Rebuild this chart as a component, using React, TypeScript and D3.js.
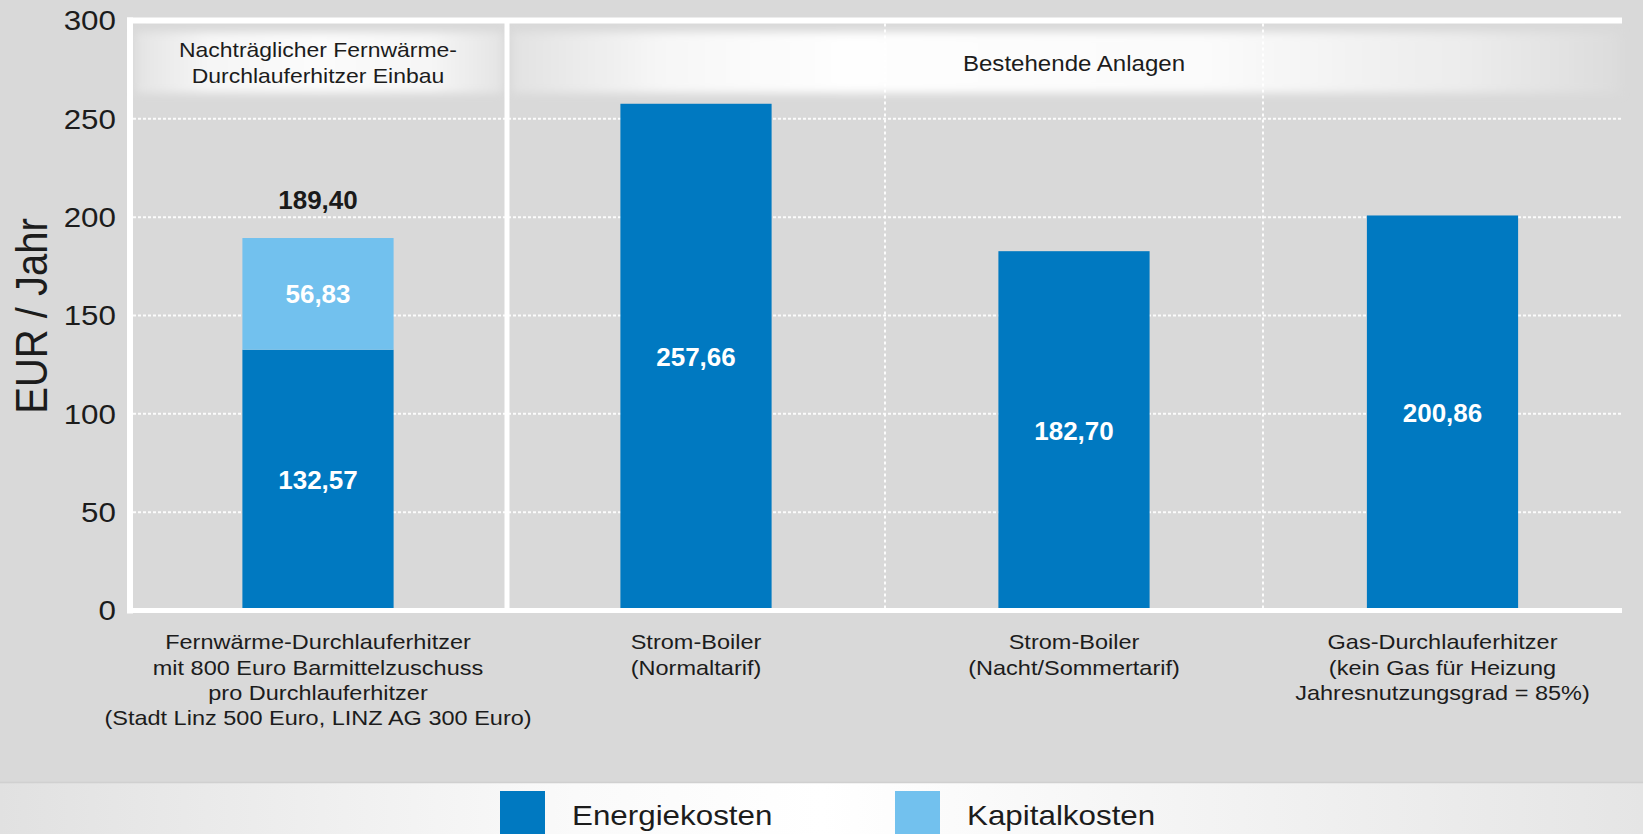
import React, { useEffect, useRef } from 'react';
import * as d3 from 'd3';

// category labels (multi-line)
const categories = [
  ['Fernwärme-Durchlauferhitzer', 'mit 800 Euro Barmittelzuschuss', 'pro Durchlauferhitzer', '(Stadt Linz 500 Euro, LINZ AG 300 Euro)'],
  ['Strom-Boiler', '(Normaltarif)'],
  ['Strom-Boiler', '(Nacht/Sommertarif)'],
  ['Gas-Durchlauferhitzer', '(kein Gas für Heizung', 'Jahresnutzungsgrad = 85%)'],
];
const energiekosten = [132.57, 257.66, 182.7, 200.86];
const kapitalkosten = [56.83, 0, 0, 0];
const seriesNames = ['Energiekosten', 'Kapitalkosten'];
const seriesColors = ['#0079c1', '#72c1ee'];
const groupLabels = [['Nachträglicher Fernwärme-', 'Durchlauferhitzer Einbau'], ['Bestehende Anlagen']];
const groupSpans = [[0, 0], [1, 3]];
const yTicks = [0, 50, 100, 150, 200, 250, 300];

const W = 1643;
const H = 834;
const FONT = '"Liberation Sans", Arial, Helvetica, sans-serif';
const SX = 1.12; // reference text is drawn slightly wide

const fmt = d3
  .formatLocale({ decimal: ',', thousands: '.', grouping: [3], currency: ['', ' €'] })
  .format('.2f');

function App() {
  const svgRef = useRef<SVGSVGElement>(null);

  useEffect(() => {
    document.body.style.margin = '0';
    const svg = d3.select(svgRef.current);
    svg.selectAll('*').remove();

    const plotLeft = 130;
    const plotRight = 1622;

    const keys = categories.map((_, i) => String(i));
    const x = d3.scaleBand().domain(keys).range([129, 1641]).padding(0);
    const y = d3.scaleLinear().domain([0, 300]).range([610.5, 20.5]);
    const bw = x.bandwidth() * 0.4;
    const cx = (i: number) => {
      const x0 = x(String(i)) as number;
      return (x0 + Math.min(x0 + x.bandwidth(), plotRight)) / 2;
    };

    const defs = svg.append('defs');
    const soft = defs.append('filter').attr('id', 'soft').attr('x', '-10%').attr('y', '-30%').attr('width', '120%').attr('height', '160%');
    soft.append('feGaussianBlur').attr('stdDeviation', 4);

    const grad = (id: string, stops: [number, string][]) => {
      const g = defs.append('linearGradient').attr('id', id).attr('x1', 0).attr('x2', 1).attr('y1', 0).attr('y2', 0);
      stops.forEach(([o, c]) => g.append('stop').attr('offset', o).attr('stop-color', c));
    };
    grad('legendBand', [[0, '#e1e1e1'], [0.35, '#fafafa'], [0.5, '#ffffff'], [0.68, '#f6f6f6'], [1, '#e5e5e5']]);
    grad('head0', [[0, '#e4e4e4'], [0.2, '#f6f6f6'], [0.5, '#fbfbfb'], [0.8, '#f6f6f6'], [1, '#e4e4e4']]);
    grad('head1', [[0, '#e2e2e2'], [0.14, '#f7f7f7'], [0.3, '#fefefe'], [0.62, '#fbfbfb'], [0.86, '#ececec'], [1, '#dcdcdc']]);

    // background
    svg.append('rect').attr('width', W).attr('height', H).attr('fill', '#d9d9d9');

    // legend band
    svg.append('rect').attr('x', 0).attr('y', 783).attr('width', W).attr('height', H - 783).attr('fill', 'url(#legendBand)');
    svg.append('line').attr('x1', 0).attr('x2', W).attr('y1', 782.5).attr('y2', 782.5).attr('stroke', '#d0d0d0').attr('stroke-width', 1.5);

    // group header boxes
    groupSpans.forEach(([a, b], gi) => {
      const x0 = (x(String(a)) as number) + (gi === 0 ? 7 : 5);
      const x1 = Math.min((x(String(b)) as number) + x.bandwidth(), plotRight) - (gi === 0 ? 4 : 2);
      svg
        .append('rect')
        .attr('x', x0)
        .attr('y', 32)
        .attr('width', x1 - x0)
        .attr('height', 61)
        .attr('fill', `url(#head${gi})`)
        .attr('filter', 'url(#soft)');
    });

    // horizontal grid
    svg
      .append('g')
      .selectAll('line')
      .data(yTicks.filter((t) => t > 0 && t < 300))
      .join('line')
      .attr('x1', plotLeft + 3)
      .attr('x2', plotRight)
      .attr('y1', (d) => y(d))
      .attr('y2', (d) => y(d))
      .attr('stroke', '#ffffff')
      .attr('stroke-opacity', 0.9)
      .attr('stroke-width', 2)
      .attr('stroke-dasharray', '3 2');

    // vertical dotted separators inside group 2
    svg
      .append('g')
      .selectAll('line')
      .data([2, 3])
      .join('line')
      .attr('x1', (d) => x(String(d)) as number)
      .attr('x2', (d) => x(String(d)) as number)
      .attr('y1', y(300) + 3)
      .attr('y2', y(0))
      .attr('stroke', '#ffffff')
      .attr('stroke-opacity', 0.9)
      .attr('stroke-width', 2)
      .attr('stroke-dasharray', '3 3');

    // bars
    const stack = d3.stack<number>().keys(['0', '1']).value((i, k) => (k === '0' ? energiekosten[i] : kapitalkosten[i]));
    const series = stack(d3.range(categories.length));
    series.forEach((s, si) => {
      svg
        .append('g')
        .selectAll('rect')
        .data(s.map((d, i) => ({ d, i })).filter((e) => e.d[1] > e.d[0]))
        .join('rect')
        .attr('x', (e) => cx(e.i) - bw / 2)
        .attr('width', bw)
        .attr('y', (e) => y(e.d[1]))
        .attr('height', (e) => y(e.d[0]) - y(e.d[1]))
        .attr('fill', seriesColors[si]);
    });

    // white frame
    const frame = svg.append('g').attr('stroke', '#ffffff');
    frame.append('line').attr('x1', plotLeft).attr('x2', plotLeft).attr('y1', y(300) - 3).attr('y2', y(0) + 3).attr('stroke-width', 6);
    frame.append('line').attr('x1', plotLeft - 3).attr('x2', plotRight).attr('y1', y(300)).attr('y2', y(300)).attr('stroke-width', 6);
    frame.append('line').attr('x1', plotLeft - 3).attr('x2', plotRight).attr('y1', y(0)).attr('y2', y(0)).attr('stroke-width', 5);
    frame
      .append('line')
      .attr('x1', x('1') as number)
      .attr('x2', x('1') as number)
      .attr('y1', y(300))
      .attr('y2', y(0))
      .attr('stroke-width', 5);

    const text = (g: any, tx: number, ty: number, s: string, size: number, opts: any = {}) =>
      g
        .append('text')
        .attr('transform', `translate(${tx},${ty}) scale(${opts.sx ?? SX},1)${opts.rot ? ' rotate(-90)' : ''}`)
        .attr('font-family', FONT)
        .attr('font-size', size)
        .attr('font-weight', opts.bold ? 'bold' : 'normal')
        .attr('text-anchor', opts.anchor ?? 'middle')
        .attr('dy', '0.35em')
        .attr('fill', opts.fill ?? '#1c1c1c')
        .text(s);

    // y axis labels
    const axis = svg.append('g');
    yTicks.forEach((t) => text(axis, 116, y(t), String(t), 28, { anchor: 'end' }));
    text(axis, 31, 316, 'EUR / Jahr', 40, { rot: true });

    // group headers
    const heads = svg.append('g');
    groupSpans.forEach(([a, b], gi) => {
      const mid = ((x(String(a)) as number) + (x(String(b)) as number) + x.bandwidth()) / 2;
      const lines = groupLabels[gi];
      const y0 = lines.length > 1 ? 50 : 63;
      lines.forEach((l, li) => text(heads, mid, y0 + li * 26, l, lines.length > 1 ? 20.5 : 21.5));
    });

    // category labels
    const cats = svg.append('g');
    categories.forEach((lines, i) => {
      lines.forEach((l, li) => text(cats, cx(i), 642 + li * 25.3, l, 21));
    });

    // value labels
    const vals = svg.append('g');
    series.forEach((s, si) => {
      s.forEach((d, i) => {
        if (d[1] <= d[0]) return;
        text(vals, cx(i), y((d[0] + d[1]) / 2), fmt(d[1] - d[0]), 26, { bold: true, fill: '#ffffff', sx: 1 });
      });
    });
    categories.forEach((_, i) => {
      if (kapitalkosten[i] > 0) {
        const total = energiekosten[i] + kapitalkosten[i];
        text(vals, cx(i), y(total) - 38, fmt(total), 26, { bold: true, fill: '#1a1a1a', sx: 1 });
      }
    });

    // legend
    const lx = d3.scalePoint().domain(seriesNames).range([500, 895]);
    const legend = svg.append('g');
    seriesNames.forEach((n, i) => {
      const lx0 = lx(n) as number;
      legend.append('rect').attr('x', lx0).attr('y', 791).attr('width', 45).attr('height', 46).attr('fill', seriesColors[i]);
      text(legend, lx0 + 72, 815, n, 28, { anchor: 'start' });
    });
  }, []);

  return <svg ref={svgRef} width={W} height={H} style={{ display: 'block' }} />;
}

export default App;
